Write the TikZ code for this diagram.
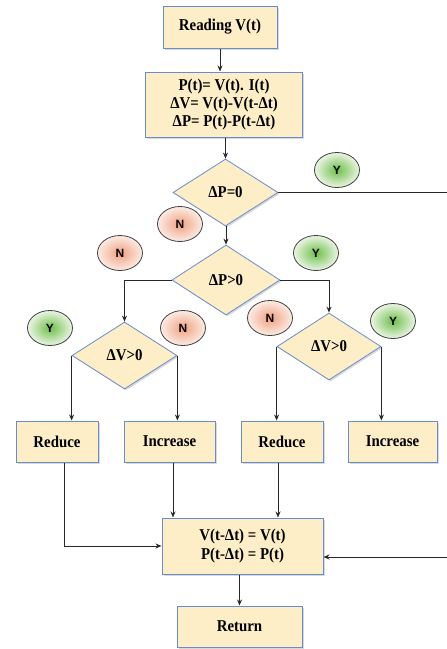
\documentclass[tikz,border=0pt]{standalone}
\usepackage{fontspec}
\setmainfont{Liberation Serif}[FakeStretch=0.9]
\newfontfamily\lblfont{Liberation Sans}
\usetikzlibrary{shapes.geometric,shadows,arrows.meta}
\definecolor{boxfill}{RGB}{253,238,200}
\definecolor{boxline}{RGB}{105,140,205}
\definecolor{conn}{RGB}{40,40,40}
\definecolor{ygreen}{RGB}{110,190,75}
\definecolor{ylight}{RGB}{235,245,228}
\definecolor{nred}{RGB}{240,160,130}
\definecolor{nlight}{RGB}{252,236,228}
\tikzset{
  box/.style={draw=boxline, line width=1pt, fill=boxfill, inner sep=0pt,
    font=\fontsize{16.5}{18.3}\selectfont\bfseries, align=center,
    drop shadow={shadow xshift=1.5pt, shadow yshift=-1.5pt, opacity=0.3, fill=gray}},
  dia/.style={diamond, aspect=1.6, draw=boxline, line width=0.8pt, fill=boxfill, inner sep=0pt,
    font=\fontsize{16.5}{18}\selectfont\bfseries,
    drop shadow={shadow xshift=1.5pt, shadow yshift=-1.5pt, opacity=0.3, fill=gray}},
  yes/.style={ellipse, draw=black!75, line width=0.8pt, inner sep=0pt,
    minimum width=45pt, minimum height=35pt, inner color=ygreen, outer color=ylight,
    font=\lblfont\fontsize{12}{13}\selectfont\bfseries},
  no/.style={ellipse, draw=black!75, line width=0.8pt, inner sep=0pt,
    minimum width=45pt, minimum height=35pt, inner color=nred, outer color=nlight,
    font=\lblfont\fontsize{12}{13}\selectfont\bfseries},
  conline/.style={draw=conn, line width=0.9pt},
  arr/.style={conline, -{Stealth[length=6pt,width=5pt]}}
}
\begin{document}
\begin{tikzpicture}[x=1pt,y=-1pt]
\useasboundingbox (0,0) rectangle (447,649);

\node[box, minimum width=114pt, minimum height=42pt] (read) at (220,27) {Reading V(t)};
\node[box, minimum width=157pt, minimum height=65pt] (calc) at (224,104.5)
  {P(t)= V(t). I(t)\\ΔV= V(t)-V(t-Δt)\\ΔP= P(t)-P(t-Δt)};
\node[dia, minimum width=105pt, minimum height=67pt] (d1) at (225.5,192.5) {ΔP=0};
\node[dia, minimum width=108pt, minimum height=70pt] (d2) at (226,280) {ΔP>0};
\node[dia, minimum width=105pt, minimum height=67pt] (d3) at (124.5,355.5) {ΔV>0};
\node[dia, minimum width=104pt, minimum height=67pt] (d4) at (329,346.5) {ΔV>0};

\node[box, minimum width=82pt, minimum height=41pt] (r1) at (57,441.5) {Reduce};
\node[box, minimum width=91pt, minimum height=41pt] (i1) at (169.5,441.5) {Increase};
\node[box, minimum width=82pt, minimum height=41pt] (r2) at (282,441.5) {Reduce};
\node[box, minimum width=89pt, minimum height=41pt] (i2) at (392.5,441.5) {Increase};

\node[box, minimum width=161pt, minimum height=56pt] (fin) at (242.5,546)
  {V(t-Δt) = V(t)\\P(t-Δt) = P(t)};
\node[box, minimum width=125pt, minimum height=41pt] (ret) at (239.5,626.5) {Return};

\node[yes] (y1) at (337,170) {Y};
\node[no]  (n1) at (180,224) {N};
\node[no]  (n2) at (120,253) {N};
\node[yes] (y2) at (316,253) {Y};
\node[yes] (y3) at (50,328) {Y};
\node[no]  (n3) at (183,328) {N};
\node[no]  (n4) at (270,318) {N};
\node[yes] (y4) at (393,321) {Y};

\coordinate (e1) at (447,192.5);
\coordinate (e2) at (447,557);

\draw[arr] (read.south) -- (read.south |- calc.north);
\draw[arr] (d1.north |- calc.south) -- (d1.north);
\draw[arr] (d1.south) -- (d1.south -| d2.north) -- (d2.north);
\draw[conline] (d1.east) -- (e1) -- (e2);
\draw[arr] (e2) -- (fin.east |- e2);
\draw[arr] (d2.west) -| (d3.north);
\draw[arr] (d2.east) -| (d4.north);
\draw[arr] (d3.west) -- (d3.west |- r1.north);
\draw[arr] (d3.east) -- (d3.east |- i1.north);
\draw[arr] (d4.west) -- (d4.west |- r2.north);
\draw[arr] (d4.east) -- (d4.east |- i2.north);
\draw[arr] ([xshift=7pt]r1.south) |- (fin.west);
\draw[arr] ([xshift=3.5pt]i1.south) -- ([xshift=3.5pt]i1.south |- fin.north);
\draw[arr] ([xshift=-4pt]r2.south) -- ([xshift=-4pt]r2.south |- fin.north);
\draw[arr] (ret.north |- fin.south) -- (ret.north);
\end{tikzpicture}
\end{document}
